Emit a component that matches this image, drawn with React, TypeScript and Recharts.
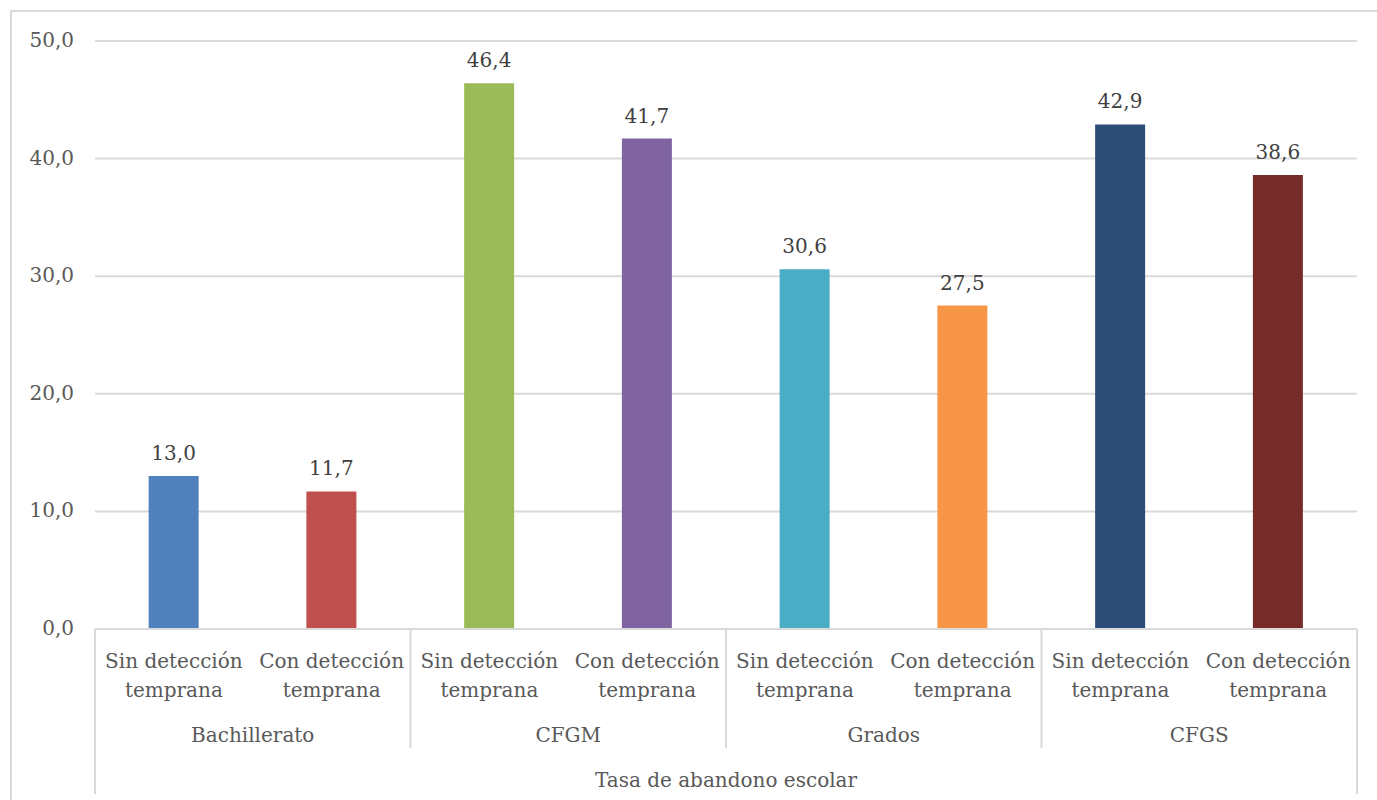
import React from 'react';
import { BarChart, Bar, XAxis, YAxis, CartesianGrid, LabelList, Cell } from 'recharts';

// Categories: each education level has two bars
const groups = ['Bachillerato', 'CFGM', 'Grados', 'CFGS'];
const subCategories = ['Sin detección temprana', 'Con detección temprana'];
const values = [13.0, 11.7, 46.4, 41.7, 30.6, 27.5, 42.9, 38.6];
const barColors = ['#4F81BD', '#C0504D', '#9BBB59', '#8064A2', '#4BACC6', '#F79646', '#2C4D75', '#772C2A'];
const yTicks = [0, 10, 20, 30, 40, 50];
const axisTitle = 'Tasa de abandono escolar';

const data = values.map((v, i) => ({
  key: `${groups[Math.floor(i / 2)]}-${i % 2}`,
  group: groups[Math.floor(i / 2)],
  sub: subCategories[i % 2],
  value: v,
}));

const W = 1377;
const H = 800;
const PLOT_LEFT = 95;
const PLOT_RIGHT = 1357;
const PLOT_TOP = 41;
const PLOT_BOTTOM = 629;
const SLOT = (PLOT_RIGHT - PLOT_LEFT) / data.length;
const FONT = '"DejaVu Serif", serif';
const AXIS_COLOR = '#D9D9D9';
const TEXT_COLOR = '#595959';

const fmt = (v: number) => v.toFixed(1).replace('.', ',');

const YTick = (props: any) => {
  const { x, y, payload } = props;
  return (
    <text x={x} y={y} dy={6} textAnchor="end" fill={TEXT_COLOR} fontSize={20} fontFamily={FONT}>
      {fmt(Number(payload.value))}
    </text>
  );
};

const XTick = (props: any) => {
  const { x, y, payload, index } = props;
  const d = data[index];
  const words = d.sub.split(' ');
  const line1 = words.slice(0, 2).join(' ');
  const line2 = words.slice(2).join(' ');
  const axisY = PLOT_BOTTOM;
  const parts: React.ReactNode[] = [];
  parts.push(
    <text key="l" x={x} y={axisY} textAnchor="middle" fill={TEXT_COLOR} fontSize={20} fontFamily={FONT}>
      <tspan x={x} dy={39}>{line1}</tspan>
      <tspan x={x} dy={28.5}>{line2}</tspan>
    </text>
  );
  if (index % 2 === 0) {
    const left = x - SLOT / 2;
    parts.push(
      <text key="g" x={x + SLOT / 2} y={axisY + 113} textAnchor="middle" fill={TEXT_COLOR} fontSize={20} fontFamily={FONT}>
        {d.group}
      </text>
    );
    parts.push(
      <line key="s" x1={left} x2={left} y1={axisY} y2={index === 0 ? 794 : axisY + 119} stroke={AXIS_COLOR} strokeWidth={2} />
    );
  }
  if (index === data.length - 1) {
    const right = x + SLOT / 2;
    parts.push(<line key="r" x1={right} x2={right} y1={axisY} y2={794} stroke={AXIS_COLOR} strokeWidth={2} />);
  }
  if (index === 0) {
    parts.push(
      <text key="t" x={(PLOT_LEFT + PLOT_RIGHT) / 2} y={axisY + 158} textAnchor="middle" fill={TEXT_COLOR} fontSize={20} fontFamily={FONT}>
        {axisTitle}
      </text>
    );
  }
  return <g>{parts}</g>;
};

const ValueLabel = (props: any) => {
  const { x, y, width, value } = props;
  return (
    <text x={x + width / 2} y={y - 16} textAnchor="middle" fill="#404040" fontSize={20} fontFamily={FONT}>
      {fmt(Number(value))}
    </text>
  );
};

export default function App() {
  return (
    <div style={{ position: 'absolute', left: 0, top: 0, width: W, height: H, background: '#fff', overflow: 'hidden' }}>
      <div
        style={{
          position: 'absolute',
          left: 10,
          top: 10,
          width: W,
          height: H,
          border: `2px solid ${AXIS_COLOR}`,
          boxSizing: 'border-box',
        }}
      />
      <div style={{ position: 'absolute', left: 0, top: 0 }}>
        <BarChart
          width={W}
          height={H}
          data={data}
          margin={{ top: PLOT_TOP, right: W - PLOT_RIGHT, bottom: 0, left: 0 }}
          barCategoryGap="34%"
        >
          <CartesianGrid vertical={false} stroke={AXIS_COLOR} strokeWidth={2} />
          <YAxis
            domain={[0, 50]}
            ticks={yTicks}
            width={PLOT_LEFT}
            axisLine={false}
            tickLine={false}
            tickMargin={15}
            tick={<YTick />}
            interval={0}
          />
          <XAxis
            dataKey="key"
            height={H - PLOT_BOTTOM}
            axisLine={{ stroke: AXIS_COLOR, strokeWidth: 2 }}
            tickLine={false}
            interval={0}
            tick={<XTick />}
          />
          <Bar dataKey="value" isAnimationActive={false} maxBarSize={50}>
            {data.map((d, i) => (
              <Cell key={d.key} fill={barColors[i]} />
            ))}
            <LabelList dataKey="value" content={<ValueLabel />} />
          </Bar>
        </BarChart>
      </div>
    </div>
  );
}
